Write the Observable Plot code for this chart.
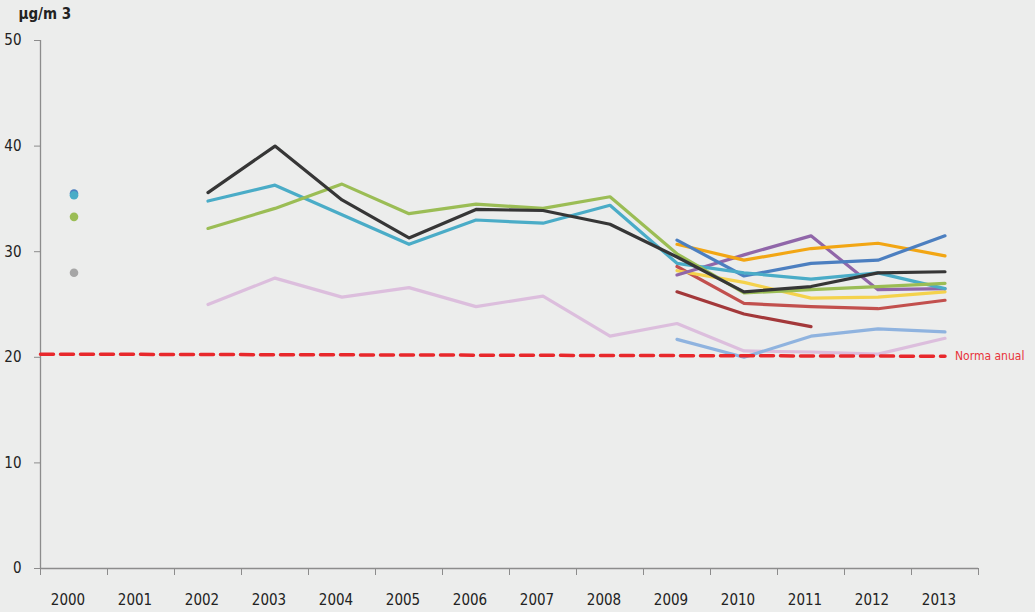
<!DOCTYPE html>
<html>
<head>
<meta charset="utf-8">
<script src="https://cdn.jsdelivr.net/npm/d3@7"></script>
<script src="https://cdn.jsdelivr.net/npm/@observablehq/plot@0.6"></script>
<style>
  html, body { margin: 0; padding: 0; background: #ecedec; }
  #chart svg { display: block; }
</style>
</head>
<body>
<div id="chart"></div>
<script>
const years = [2000, 2001, 2002, 2003, 2004, 2005, 2006, 2007, 2008, 2009, 2010, 2011, 2012, 2013];
const yTicks = [0, 10, 20, 30, 40, 50];
const unitLabel = "µg/m 3";
const normaLabel = "Norma anual";

// series (null = no measurement)
const serieRosa      = [null, null, 25.0, 27.5, 25.7, 26.6, 24.8, 25.8, 22.0, 23.2, 20.6, 20.5, 20.3, 21.8];
const serieCeleste   = [null, null, null, null, null, null, null, null, null, 21.7, 20.0, 22.0, 22.7, 22.4];
const serieGris      = [28.0, null, null, null, null, null, null, null, null, null, null, null, null, null];
const serieGranate   = [null, null, null, null, null, null, null, null, null, 26.2, 24.1, 22.9, null, null];
const serieRoja      = [null, null, null, null, null, null, null, null, null, 28.6, 25.1, 24.8, 24.6, 25.4];
const serieAmarilla  = [null, null, null, null, null, null, null, null, null, 28.2, 27.1, 25.6, 25.7, 26.2];
const serieMorada    = [null, null, null, null, null, null, null, null, null, 27.8, 29.7, 31.5, 26.4, 26.5];
const serieNaranja   = [null, null, null, null, null, null, null, null, null, 30.7, 29.2, 30.3, 30.8, 29.6];
const serieAzul      = [35.5, null, null, null, null, null, null, null, null, 31.1, 27.7, 28.9, 29.2, 31.5];
const serieTurquesa  = [35.35, null, 34.8, 36.3, 33.5, 30.7, 33.0, 32.7, 34.4, 28.9, 28.0, 27.4, 28.0, 26.5];
const serieVerde     = [33.3, null, 32.2, 34.1, 36.4, 33.6, 34.5, 34.1, 35.2, 29.8, 26.1, 26.4, 26.7, 27.0];
const serieNegra     = [null, null, 35.6, 40.0, 34.9, 31.3, 34.0, 33.9, 32.6, 29.5, 26.2, 26.7, 28.0, 28.1];

const seriesNames  = ["S01", "S02", "S03", "S04", "S05", "S06", "S07", "S08", "S09", "S10", "S11", "S12"];
const seriesValues = [serieRosa, serieCeleste, serieGris, serieGranate, serieRoja, serieAmarilla, serieMorada, serieNaranja, serieAzul, serieTurquesa, serieVerde, serieNegra];
const seriesColors = ["#dcbedd", "#8fb3df", "#a6a6a6", "#a3383a", "#c2504e", "#f4d24c", "#9066a9", "#f2a614", "#4c7fc0", "#4aacc7", "#9bbd55", "#363636"];

// Norma anual (annual limit) reference line
const normaYears  = [1999.5, 2013];
const normaValues = [20.3, 20.1];

const rows = [];
seriesNames.forEach((name, i) => {
  years.forEach((yr, j) => {
    const v = seriesValues[i][j];
    rows.push({series: name, year: yr, value: v == null ? NaN : v});
  });
});
// isolated points (no neighbour on either side) shown as dots
const isolated = rows.filter(r => {
  if (isNaN(r.value)) return false;
  const vals = seriesValues[seriesNames.indexOf(r.series)];
  const j = years.indexOf(r.year);
  const prev = j > 0 ? vals[j - 1] : null;
  const next = j < years.length - 1 ? vals[j + 1] : null;
  return prev == null && next == null;
});
const norma = normaYears.map((x, i) => ({year: x, value: normaValues[i]}));
const boundaries = years.map(y => y - 0.5).concat([years[years.length - 1] + 0.5]);

const font = "'Liberation Sans Narrow', 'DejaVu Sans Condensed', 'Roboto Condensed', 'Liberation Sans', sans-serif";

const chart = Plot.plot({
  width: 1035,
  height: 612,
  marginTop: 40,
  marginRight: 57,
  marginBottom: 44,
  marginLeft: 40,
  style: {background: "#ecedec", fontFamily: font, fontSize: "15px", color: "#222"},
  x: {domain: [1999.5, 2013.5], axis: null},
  y: {domain: [0, 50], axis: null},
  color: {domain: seriesNames, range: seriesColors},
  marks: [
    Plot.axisY({ticks: yTicks, tickSize: 6, tickPadding: 13, stroke: "#8c8c8c", fill: "#222", label: null, fontSize: 15}),
    Plot.axisX({ticks: boundaries, tickSize: 7, tickFormat: () => "", stroke: "#8c8c8c", label: null}),
    Plot.axisX({ticks: years, tickSize: 0, tickPadding: 26, tickFormat: d => String(d), dx: -6, fill: "#222", label: null, fontSize: 15}),
    Plot.ruleX([1999.5], {stroke: "#8c8c8c", strokeWidth: 1.3}),
    Plot.ruleY([0], {stroke: "#8c8c8c", strokeWidth: 1.5}),
    Plot.line(rows, {x: "year", y: "value", z: "series", stroke: "series", strokeWidth: 3.2, strokeLinejoin: "round", strokeLinecap: "round"}),
    Plot.dot(isolated, {x: "year", y: "value", fill: "series", r: 4.3}),
    Plot.line(norma, {x: "year", y: "value", stroke: "#e8282c", strokeWidth: 3.5, strokeDasharray: "13 7"}),
    Plot.text(norma.slice(-1), {x: "year", y: "value", text: () => normaLabel, dx: 10, textAnchor: "start", fill: "#e8343a", fontSize: 12}),
    Plot.text([unitLabel], {frameAnchor: "top-left", dx: -22, dy: -26, lineAnchor: "middle", textAnchor: "start", fontSize: 15, fontWeight: "bold", fill: "#222"})
  ]
});
document.getElementById("chart").appendChild(chart);
</script>
</body>
</html>
